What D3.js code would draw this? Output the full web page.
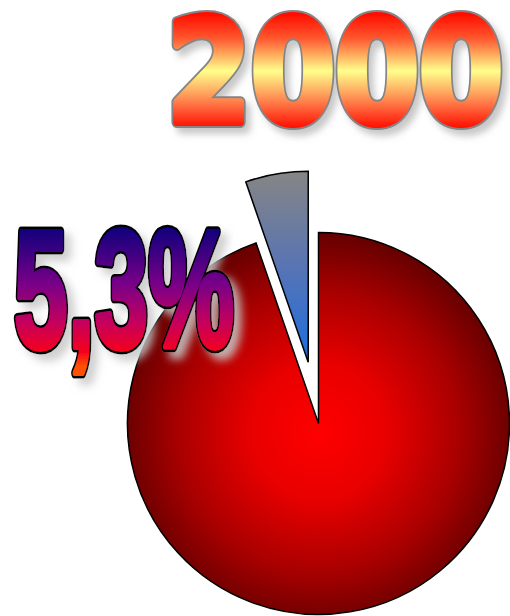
<!DOCTYPE html>
<html>
<head>
<meta charset="utf-8">
<script src="https://cdn.jsdelivr.net/npm/d3@7"></script>
<style>
  html, body { margin: 0; padding: 0; background: #fff; }
  svg { display: block; }
</style>
</head>
<body>
<svg id="chart" width="510" height="616"></svg>
<script>
// ---- data ----
const categories = ["Other", "Share"];
const values = [94.7, 5.3];
const titleText = "2000";
const labelText = "5,3%";

const W = 510, H = 616;
const svg = d3.select("#chart");
const defs = svg.append("defs");

// gradients (slice gradients are in each slice's local coordinates: origin = slice vertex)
const rg = defs.append("radialGradient").attr("id", "redGrad")
  .attr("gradientUnits", "userSpaceOnUse")
  .attr("cx", 0).attr("cy", 8).attr("r", 196);
[[0, "#ff0000"], [0.35, "#e80000"], [0.72, "#a80000"], [1, "#680000"]]
  .forEach(([o, c]) => rg.append("stop").attr("offset", o).attr("stop-color", c));

const bg = defs.append("linearGradient").attr("id", "blueGrad")
  .attr("gradientUnits", "userSpaceOnUse")
  .attr("x1", 0).attr("y1", -190).attr("x2", 0).attr("y2", 0);
[[0, "#858585"], [0.5, "#5874b4"], [1, "#1c6de0"]]
  .forEach(([o, c]) => bg.append("stop").attr("offset", o).attr("stop-color", c));

const tg = defs.append("linearGradient").attr("id", "titleGrad")
  .attr("gradientUnits", "userSpaceOnUse")
  .attr("x1", 0).attr("y1", 14).attr("x2", 0).attr("y2", 128);
[[0, "#ff0c00"], [0.22, "#ff5a30"], [0.5, "#ffff8c"], [0.78, "#ff7a48"], [1, "#ff0c00"]]
  .forEach(([o, c]) => tg.append("stop").attr("offset", o).attr("stop-color", c));

const lg = defs.append("linearGradient").attr("id", "labelGrad")
  .attr("gradientUnits", "userSpaceOnUse")
  .attr("x1", 0).attr("y1", 226).attr("x2", 0).attr("y2", 366);
[[0, "#0c007c"], [0.42, "#7a0088"], [0.7, "#c8005a"], [0.9, "#f5001c"], [1, "#ff5000"]]
  .forEach(([o, c]) => lg.append("stop").attr("offset", o).attr("stop-color", c));

function shadow(id, dx, dy, blur, color, op) {
  const f = defs.append("filter").attr("id", id)
    .attr("x", "-20%").attr("y", "-20%").attr("width", "140%").attr("height", "140%");
  f.append("feDropShadow").attr("dx", dx).attr("dy", dy).attr("stdDeviation", blur)
    .attr("flood-color", color).attr("flood-opacity", op);
}
shadow("titleShadow", 5, 6, 3.5, "#9a9a9a", 0.55);
shadow("labelShadow", 7, 7, 4, "#c8c8c8", 0.85);

// ---- pie ----
const cx = 318.5, cy = 423.5, R = 191, explode = 62;
const pie = d3.pie().sort(null).startAngle(0).endAngle(2 * Math.PI);
const arcs = pie(values);
const arc = d3.arc().innerRadius(0).outerRadius(R);
const fills = ["url(#redGrad)", "url(#blueGrad)"];

const g = svg.append("g");
g.selectAll("path").data(arcs).join("path")
  .attr("d", arc)
  .attr("transform", (d, i) => {
    const off = i === 1 ? explode : 0;
    const a = (d.startAngle + d.endAngle) / 2;
    return `translate(${cx + off * Math.sin(a)},${cy - off * Math.cos(a)})`;
  })
  .attr("fill", (d, i) => fills[i])
  .attr("stroke", "#000")
  .attr("stroke-width", 1.5)
  .attr("stroke-linejoin", "miter");

// ---- label "5,3%" ----
const lab = svg.append("g").attr("filter", "url(#labelShadow)");
const labAttrs = sel => sel
  .attr("x", 14).attr("y", 347)
  .attr("font-family", "'Liberation Sans Narrow', 'Liberation Sans', Arial, sans-serif")
  .attr("font-weight", "bold")
  .attr("font-size", 167)
  .attr("textLength", 220)
  .attr("lengthAdjust", "spacingAndGlyphs")
  .text(labelText);
lab.append("text").call(labAttrs)
  .attr("fill", "#000").attr("stroke", "#000").attr("stroke-width", 11)
  .attr("stroke-linejoin", "round");
lab.append("text").call(labAttrs)
  .attr("fill", "url(#labelGrad)").attr("stroke", "url(#labelGrad)").attr("stroke-width", 6)
  .attr("stroke-linejoin", "round");

// ---- title "2000" ----
const tit = svg.append("g").attr("filter", "url(#titleShadow)");
const titAttrs = sel => sel
  .attr("x", 167).attr("y", 122)
  .attr("font-family", "'DejaVu Sans', sans-serif")
  .attr("font-weight", "bold")
  .attr("font-size", 142)
  .attr("textLength", 336)
  .attr("lengthAdjust", "spacingAndGlyphs")
  .text(titleText);
tit.append("text").call(titAttrs)
  .attr("fill", "#858585").attr("stroke", "#858585").attr("stroke-width", 12)
  .attr("stroke-linejoin", "round");
tit.append("text").call(titAttrs)
  .attr("fill", "url(#titleGrad)").attr("stroke", "url(#titleGrad)").attr("stroke-width", 8)
  .attr("stroke-linejoin", "round");
</script>
</body>
</html>
